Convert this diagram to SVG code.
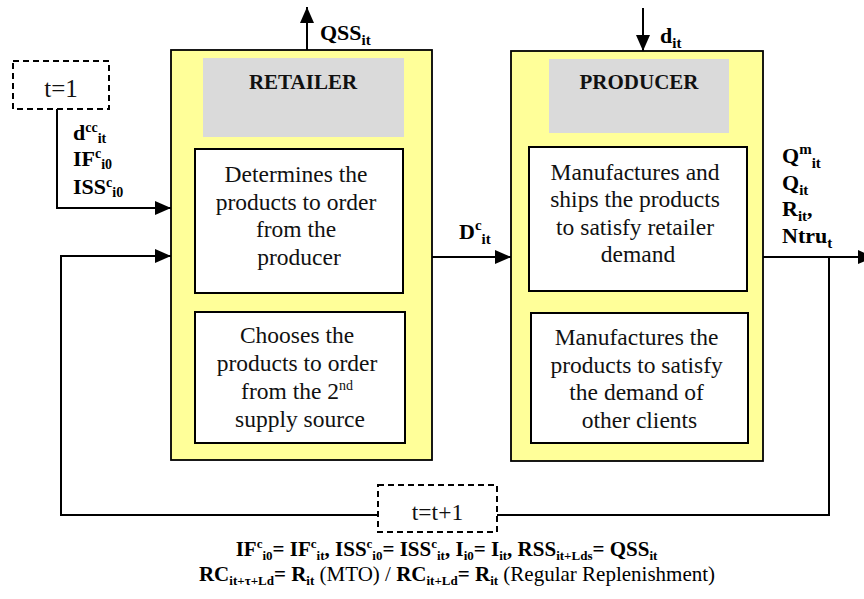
<svg xmlns="http://www.w3.org/2000/svg" width="864" height="599" viewBox="0 0 864 599">
<style>
.outer{fill:#FFFF99;stroke:#000;stroke-width:1.8}
.head{fill:#DADADA}
.inner{fill:#fff;stroke:#000;stroke-width:2}
.dash{fill:#fff;stroke:#000;stroke-width:2;stroke-dasharray:6,4}
text{font-family:'Liberation Serif','Times New Roman',Times,'DejaVu Serif',serif}
.t{font-size:23.5px;fill:#111}
.h{font-size:21px;font-weight:bold;fill:#111}
.b{font-size:22px;font-weight:bold;fill:#000}
.s{font-size:15px}
.ls{font-size:14px}
.f{font-size:21px;font-weight:bold;fill:#000}
.fs{font-size:13px}
.n{font-weight:normal}
.c{fill:none;stroke:#000;stroke-width:2}
</style>
<defs>
<marker id="ar" markerUnits="userSpaceOnUse" markerWidth="16" markerHeight="14" refX="16" refY="7" orient="auto">
<path d="M0,0 L16,7 L0,14 z" fill="#000"/>
</marker>
</defs>

<g id="connectors">
<path class="c" d="M57,109 V208 H171" marker-end="url(#ar)"/>
<path class="c" d="M378,515 H61 V256 H171" marker-end="url(#ar)"/>
<path class="c" d="M763,257 H874" marker-end="url(#ar)"/>
<path class="c" d="M829,257 V515 H497"/>
<path class="c" d="M307,50 V7" marker-end="url(#ar)"/>
<path class="c" d="M643,8 V51" marker-end="url(#ar)"/>
<path class="c" d="M432,257 H511" marker-end="url(#ar)"/>
</g>

<g id="retailer">
<rect class="outer" x="171" y="50" width="261" height="410"/>
<rect class="head" x="203" y="58" width="201" height="79"/>
<text class="h" x="303" y="89" text-anchor="middle">RETAILER</text>
</g>
<g id="retailer-determines">
<rect class="inner" x="195" y="149" width="208" height="144"/>
<text class="t" text-anchor="middle">
<tspan x="299" y="182">Determines the</tspan>
<tspan x="299" y="209.5">products to order</tspan>
<tspan x="299" y="237">from the</tspan>
<tspan x="299" y="264.5">producer</tspan>
</text>
</g>
<g id="retailer-chooses">
<rect class="inner" x="195" y="312" width="210" height="131"/>
<text class="t" text-anchor="middle">
<tspan x="300" y="343">Chooses the</tspan>
<tspan x="300" y="371">products to order</tspan>
<tspan x="300" y="399">from the 2<tspan dy="-9" font-size="14">nd</tspan></tspan>
<tspan x="300" y="427">supply source</tspan>
</text>
</g>

<g id="producer">
<rect class="outer" x="511" y="51" width="252" height="410"/>
<rect class="head" x="549" y="59" width="180" height="74"/>
<text class="h" x="639" y="89" text-anchor="middle">PRODUCER</text>
</g>
<g id="producer-manufactures-ships">
<rect class="inner" x="529" y="147" width="218" height="144"/>
<text class="t" text-anchor="middle">
<tspan x="638" y="179.5">Manufactures and</tspan>
<tspan x="638" y="207">ships the products</tspan>
<tspan x="638" y="234.5">to satisfy retailer</tspan>
<tspan x="638" y="262">demand</tspan>
</text>
</g>
<g id="producer-manufactures-others">
<rect class="inner" x="531" y="313" width="217" height="130"/>
<text class="t" text-anchor="middle">
<tspan x="639.5" y="345">Manufactures the</tspan>
<tspan x="639.5" y="372.5">products to satisfy</tspan>
<tspan x="639.5" y="400">the demand of</tspan>
<tspan x="639.5" y="427.5">other clients</tspan>
</text>
</g>

<g id="start">
<rect class="dash" x="13" y="61" width="96" height="48"/>
<text class="t" x="61" y="97" text-anchor="middle" style="font-size:25px">t=1</text>
</g>
<g id="next">
<rect class="dash" x="378" y="485" width="119" height="47"/>
<text class="t" x="437.5" y="520" text-anchor="middle">t=t+1</text>
</g>

<g id="labels">
<text class="b" x="73" y="140">d<tspan class="ls" dy="-8">cc</tspan><tspan class="ls" dy="11">it</tspan></text>
<text class="b" x="73" y="166">IF<tspan class="ls" dy="-8">c</tspan><tspan class="ls" dy="11">i0</tspan></text>
<text class="b" x="73" y="194">ISS<tspan class="ls" dy="-7">c</tspan><tspan class="ls" dy="10">i0</tspan></text>
<text class="b" x="320" y="40">QSS<tspan class="s" dy="5">it</tspan></text>
<text class="b" x="660" y="43">d<tspan class="s" dy="5">it</tspan></text>
<text class="b" x="459" y="239">D<tspan class="s" dy="-9">c</tspan><tspan class="s" dy="14">it</tspan></text>
<text class="b" x="782" y="163">Q<tspan class="s" dy="-9">m</tspan><tspan class="s" dy="14">it</tspan></text>
<text class="b" x="782" y="190">Q<tspan class="s" dy="5">it</tspan></text>
<text class="b" x="782" y="216">R<tspan class="s" dy="5">it</tspan><tspan dy="-5">,</tspan></text>
<text class="b" x="782" y="243">Ntru<tspan class="s" dy="5">t</tspan></text>
<text class="f" x="446.5" y="556" text-anchor="middle">IF<tspan class="fs" dy="-8">c</tspan><tspan class="fs" dy="12">i0</tspan><tspan dy="-4">= IF</tspan><tspan class="fs" dy="-8">c</tspan><tspan class="fs" dy="12">it</tspan><tspan dy="-4">, ISS</tspan><tspan class="fs" dy="-8">c</tspan><tspan class="fs" dy="12">i0</tspan><tspan dy="-4">= ISS</tspan><tspan class="fs" dy="-8">c</tspan><tspan class="fs" dy="12">it</tspan><tspan dy="-4">, I</tspan><tspan class="fs" dy="4">i0</tspan><tspan dy="-4">= I</tspan><tspan class="fs" dy="4">it</tspan><tspan dy="-4">, RSS</tspan><tspan class="fs" dy="4">it+Lds</tspan><tspan dy="-4">= QSS</tspan><tspan class="fs" dy="4">it</tspan></text>
<text class="f" x="457" y="581" text-anchor="middle">RC<tspan class="fs" dy="4">it+τ+Ld</tspan><tspan dy="-4">= R</tspan><tspan class="fs" dy="4">it</tspan><tspan class="n" dy="-4"> (MTO) / </tspan><tspan>RC</tspan><tspan class="fs" dy="4">it+Ld</tspan><tspan dy="-4">= R</tspan><tspan class="fs" dy="4">it</tspan><tspan class="n" dy="-4"> (Regular Replenishment)</tspan></text>
</g>
</svg>
